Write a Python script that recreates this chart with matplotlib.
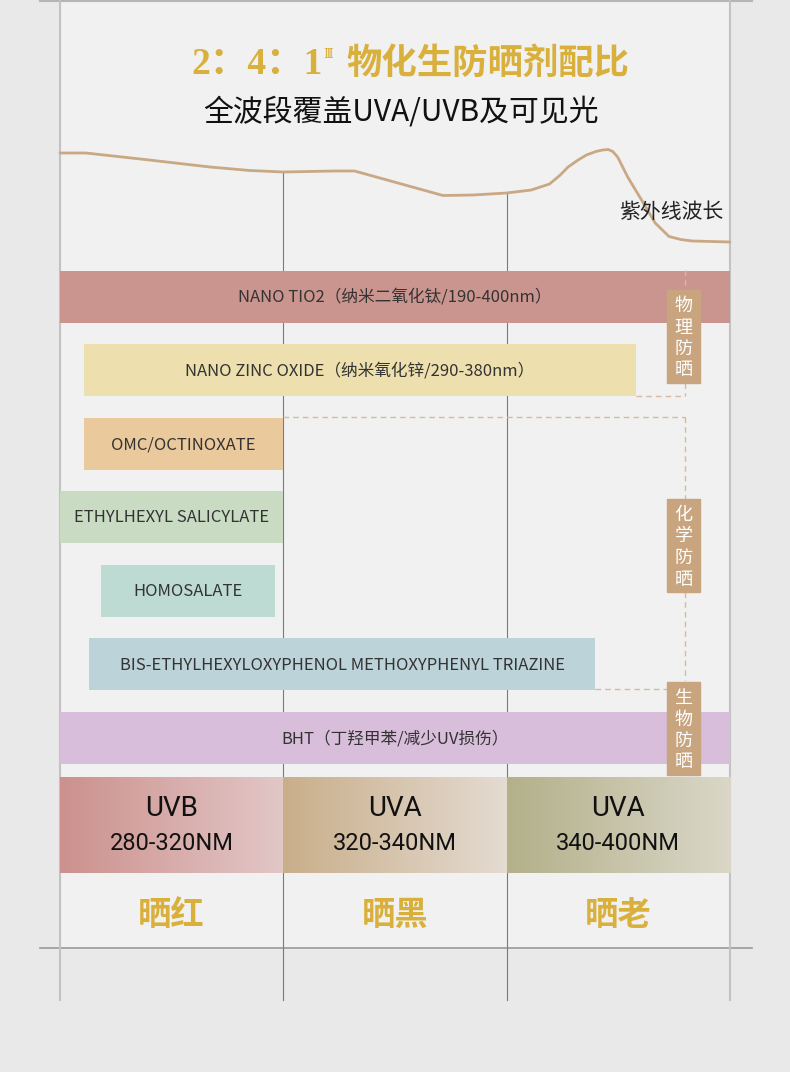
import numpy as np
import matplotlib
matplotlib.use("Agg")
import matplotlib.pyplot as plt
from matplotlib.colors import to_rgb

plt.rcParams['font.family'] = ['Noto Sans CJK SC', 'DejaVu Sans']

# ---- data ----
# coverage is given in band units: 0 = left edge (280nm), 1 = 320nm line, 2 = 340nm line, 3 = 400nm edge
ingredients = ['NANO TIO2（纳米二氧化钛/190-400nm）',
               'NANO ZINC OXIDE（纳米氧化锌/290-380nm）',
               'OMC/OCTINOXATE',
               'ETHYLHEXYL SALICYLATE',
               'HOMOSALATE',
               'BIS-ETHYLHEXYLOXYPHENOL METHOXYPHENYL TRIAZINE',
               'BHT（丁羟甲苯/减少UV损伤）']
cover_start = [0.0, 0.107, 0.107, 0.0, 0.184, 0.13, 0.0]
cover_end = [3.0, 2.58, 1.0, 1.0, 0.964, 2.396, 3.0]
bar_colors = ['#cb958f', '#ede0ae', '#eac99c', '#c9dcc3', '#bedbd3', '#bdd3da', '#d8bedb']

groups = ['物理防晒', '化学防晒', '生物防晒']

bands = ['UVB', 'UVA', 'UVA']
band_ranges = ['280-320NM', '320-340NM', '340-400NM']
band_left = ['#cc918d', '#c9ae8a', '#b3b08a']
band_right = ['#e2c7c7', '#e4dbd1', '#dad7c8']
effects = ['晒红', '晒黑', '晒老']

# uv wavelength curve (band units, level in px from top)
curve_u = [0.0, 0.116, 0.40, 0.671, 0.85, 1.0, 1.226, 1.319, 1.715, 1.85, 2.0, 2.11, 2.192,
           2.24, 2.275, 2.32, 2.357, 2.40, 2.429, 2.455, 2.475, 2.497, 2.542, 2.604, 2.665,
           2.727, 2.78, 2.83, 3.0]
curve_level = [153, 153, 160, 167, 170.5, 172, 171, 171, 195.5, 195, 193, 190, 184,
               175, 167, 160, 155, 151.5, 150, 149.5, 151.5, 157, 177, 200, 223,
               236.5, 239.5, 241, 242]

# ---- layout ----
W, H = 790, 1072
X0, BAND = 60, 223.33
gold = '#d9b03c'
tan = '#c8a47f'
dash_c = '#d8b99c'


def bx(u):
    return X0 + np.asarray(u) * BAND


fig = plt.figure(figsize=(W / 100, H / 100), dpi=100)
fig.patch.set_facecolor('#e9e9e9')
ax = fig.add_axes([0, 0, 1, 1])
ax.axis('off')

# panel
ax.add_patch(plt.Rectangle((X0, 0), 3 * BAND, 948, color='#f1f1f1', zorder=0))
ax.plot([40, 752], [1, 1], color='#b5b5b5', lw=1.5, zorder=1)
ax.plot([40, 752], [948, 948], color='#999999', lw=1.2, zorder=1)
for u in [0, 3]:
    ax.plot([bx(u), bx(u)], [0, 1000], color='#c2c2c2', lw=1.5, zorder=1)
for u in [1, 2]:
    ytop = np.interp(u, curve_u, curve_level)
    ax.plot([bx(u), bx(u)], [ytop, 1000], color='#7a7a7a', lw=0.8, zorder=1)

# titles
ax.text(191, 64, '2：4：1', family=['Liberation Serif', 'Noto Sans CJK SC'], weight='bold',
        size=27, color=gold, ha='left', va='center')
ax.text(323, 55, 'Ⅲ', family=['DejaVu Serif', 'Noto Sans CJK SC'], size=9, color=gold,
        ha='left', va='center')
ax.text(346, 63, '物化生防晒剂配比', size=25.5, weight='bold', color=gold, ha='left', va='center')
ax.text(401, 112, '全波段覆盖UVA/UVB及可见光', size=21.5, color='#111111', ha='center', va='center')

# curve
ax.plot(bx(curve_u), curve_level, color='#c9a884', lw=2, solid_capstyle='round',
        solid_joinstyle='round', zorder=2)
ax.text(671, 212, '紫外线波长', size=15, color='#222222', ha='center', va='center', zorder=3)

# ingredient bars
rows = 296.5 + 73.5 * np.arange(len(ingredients))
s = np.array(cover_start)
e = np.array(cover_end)
ax.barh(rows, bx(e) - bx(s), left=bx(s), height=52, color=bar_colors, zorder=3)
for y, a, b, name in zip(rows, s, e, ingredients):
    ax.text((bx(a) + bx(b)) / 2, y + 1, name, size=12, color='#333333', ha='center', va='center', zorder=4)

# dashed group brackets
dk = dict(color=dash_c, lw=1, ls=(0, (4, 3)), zorder=4)
ax.plot([685, 685], [270, 290], **dk)
ax.plot([685, 685], [383, 396], **dk)
ax.plot([bx(e[1]), 685], [396, 396], **dk)
ax.plot([bx(e[2]), 685], [417, 417], **dk)
ax.plot([685, 685], [417, 499], **dk)
ax.plot([685, 685], [592, 680], **dk)
ax.plot([bx(e[5]), 667], [689, 689], **dk)

# group tags
tag_tops = [290, 499, 682]
for top, g in zip(tag_tops, groups):
    ax.add_patch(plt.Rectangle((667, top), 33, 93, color=tan, zorder=5))
    for k, ch in enumerate(g):
        ax.text(683.5, top + 16 + 21.5 * k, ch, size=13, color='white', ha='center', va='center', zorder=6)

# band blocks
grad = np.linspace(0, 1, 256)
for i in range(3):
    c0 = np.array(to_rgb(band_left[i]))
    c1 = np.array(to_rgb(band_right[i]))
    img = c0[None, None, :] * (1 - grad[None, :, None]) + c1[None, None, :] * grad[None, :, None]
    ax.imshow(img, extent=(bx(i), bx(i + 1), 873, 777), aspect='auto', zorder=3)
    cx = (bx(i) + bx(i + 1)) / 2
    ax.text(cx, 808, bands[i], family=['Roboto', 'DejaVu Sans'], size=20,
            color='#111111', ha='center', va='center', zorder=4)
    ax.text(cx, 843, band_ranges[i], family=['Roboto', 'DejaVu Sans'], size=17,
            color='#111111', ha='center', va='center', zorder=4)
    ax.text(cx, 915, effects[i], size=24, weight='bold', color=gold, ha='center', va='center', zorder=4)

ax.set_xlim(0, W)
ax.set_ylim(H, 0)
fig.savefig('out.png', dpi=100, facecolor=fig.get_facecolor())
